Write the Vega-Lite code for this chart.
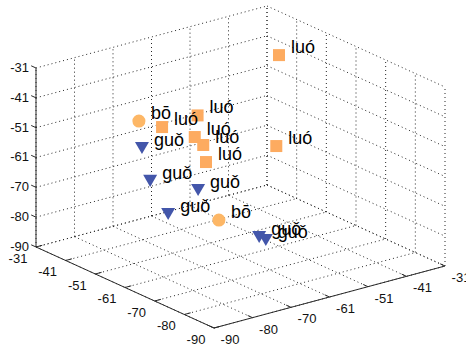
{
  "$schema": "https://vega.github.io/schema/vega-lite/v6.json",
  "width": 466,
  "height": 347,
  "padding": 0,
  "autosize": {"type": "none"},
  "background": "white",
  "config": {"view": {"stroke": null}},
  "datasets": {
    "ticks": [
      {"t": -90, "lab": "-90"},
      {"t": -80.1667, "lab": "-80"},
      {"t": -70.3333, "lab": "-70"},
      {"t": -60.5, "lab": "-61"},
      {"t": -50.6667, "lab": "-51"},
      {"t": -40.8333, "lab": "-41"},
      {"t": -31, "lab": "-31"}
    ],
    "axes": [
      {"a1": -31, "b1": -90, "z1": -90, "a2": -31, "b2": -90, "z2": -31},
      {"a1": -31, "b1": -90, "z1": -90, "a2": -90, "b2": -90, "z2": -90},
      {"a1": -90, "b1": -90, "z1": -90, "a2": -90, "b2": -31, "z2": -90}
    ],
    "points": [
      {"word": "luó", "a": -50.8, "b": -43.2, "z": -34},
      {"word": "luó", "a": -69.9, "b": -58.6, "z": -50},
      {"word": "bō", "a": -48.5, "b": -77.2, "z": -45},
      {"word": "luó", "a": -54.1, "b": -75.6, "z": -45},
      {"word": "luó", "a": -57.3, "b": -69.0, "z": -42},
      {"word": "luó", "a": -61.3, "b": -72.8, "z": -46},
      {"word": "luó", "a": -63.2, "b": -72.1, "z": -48},
      {"word": "luó", "a": -65.8, "b": -73.4, "z": -52},
      {"word": "guǒ", "a": -47.3, "b": -75.5, "z": -55},
      {"word": "guǒ", "a": -49.5, "b": -75.1, "z": -65},
      {"word": "guǒ", "a": -55.4, "b": -67.4, "z": -68},
      {"word": "guǒ", "a": -53.0, "b": -73.2, "z": -75},
      {"word": "bō", "a": -60.6, "b": -66.1, "z": -76},
      {"word": "guǒ", "a": -65.0, "b": -59.2, "z": -82},
      {"word": "guǒ", "a": -67.2, "b": -59.2, "z": -82}
    ]
  },
  "layer": [
    {
      "data": {"name": "ticks"},
      "transform": [
        {"calculate": "datum.t", "as": "a1"}, {"calculate": "-90", "as": "b1"}, {"calculate": "-90", "as": "z1"},
        {"calculate": "datum.t", "as": "a2"}, {"calculate": "-31", "as": "b2"}, {"calculate": "-90", "as": "z2"},
        {"calculate": "214 - (datum.a1 + 90) * 3.0169 + (datum.b1 + 90) * 3.9153", "as": "x1"},
        {"calculate": "19 + (datum.a1 + 90) * 1.3729 + (datum.b1 + 90) * 1.0508 + (datum.z1 + 90) * 3.0339", "as": "y1"},
        {"calculate": "214 - (datum.a2 + 90) * 3.0169 + (datum.b2 + 90) * 3.9153", "as": "x2"},
        {"calculate": "19 + (datum.a2 + 90) * 1.3729 + (datum.b2 + 90) * 1.0508 + (datum.z2 + 90) * 3.0339", "as": "y2"}
      ],
      "mark": {"type": "rule", "stroke": "#262626", "strokeWidth": 1, "strokeDash": [1, 3]},
      "encoding": {
        "x": {"field": "x1", "type": "quantitative", "scale": {"domain": [0, 466], "nice": false, "zero": false}, "axis": null},
        "y": {"field": "y1", "type": "quantitative", "scale": {"domain": [0, 347], "nice": false, "zero": false}, "axis": null},
        "x2": {"field": "x2"}, "y2": {"field": "y2"}
      }
    },
    {
      "data": {"name": "ticks"},
      "transform": [
        {"calculate": "-31", "as": "a1"}, {"calculate": "datum.t", "as": "b1"}, {"calculate": "-90", "as": "z1"},
        {"calculate": "-90", "as": "a2"}, {"calculate": "datum.t", "as": "b2"}, {"calculate": "-90", "as": "z2"},
        {"calculate": "214 - (datum.a1 + 90) * 3.0169 + (datum.b1 + 90) * 3.9153", "as": "x1"},
        {"calculate": "19 + (datum.a1 + 90) * 1.3729 + (datum.b1 + 90) * 1.0508 + (datum.z1 + 90) * 3.0339", "as": "y1"},
        {"calculate": "214 - (datum.a2 + 90) * 3.0169 + (datum.b2 + 90) * 3.9153", "as": "x2"},
        {"calculate": "19 + (datum.a2 + 90) * 1.3729 + (datum.b2 + 90) * 1.0508 + (datum.z2 + 90) * 3.0339", "as": "y2"}
      ],
      "mark": {"type": "rule", "stroke": "#262626", "strokeWidth": 1, "strokeDash": [1, 3]},
      "encoding": {
        "x": {"field": "x1", "type": "quantitative", "scale": {"domain": [0, 466], "nice": false, "zero": false}, "axis": null},
        "y": {"field": "y1", "type": "quantitative", "scale": {"domain": [0, 347], "nice": false, "zero": false}, "axis": null},
        "x2": {"field": "x2"}, "y2": {"field": "y2"}
      }
    },
    {
      "data": {"name": "ticks"},
      "transform": [
        {"calculate": "-31", "as": "a1"}, {"calculate": "datum.t", "as": "b1"}, {"calculate": "-90", "as": "z1"},
        {"calculate": "-31", "as": "a2"}, {"calculate": "datum.t", "as": "b2"}, {"calculate": "-31", "as": "z2"},
        {"calculate": "214 - (datum.a1 + 90) * 3.0169 + (datum.b1 + 90) * 3.9153", "as": "x1"},
        {"calculate": "19 + (datum.a1 + 90) * 1.3729 + (datum.b1 + 90) * 1.0508 + (datum.z1 + 90) * 3.0339", "as": "y1"},
        {"calculate": "214 - (datum.a2 + 90) * 3.0169 + (datum.b2 + 90) * 3.9153", "as": "x2"},
        {"calculate": "19 + (datum.a2 + 90) * 1.3729 + (datum.b2 + 90) * 1.0508 + (datum.z2 + 90) * 3.0339", "as": "y2"}
      ],
      "mark": {"type": "rule", "stroke": "#262626", "strokeWidth": 1, "strokeDash": [1, 3]},
      "encoding": {
        "x": {"field": "x1", "type": "quantitative", "scale": {"domain": [0, 466], "nice": false, "zero": false}, "axis": null},
        "y": {"field": "y1", "type": "quantitative", "scale": {"domain": [0, 347], "nice": false, "zero": false}, "axis": null},
        "x2": {"field": "x2"}, "y2": {"field": "y2"}
      }
    },
    {
      "data": {"name": "ticks"},
      "transform": [
        {"calculate": "-31", "as": "a1"}, {"calculate": "-90", "as": "b1"}, {"calculate": "datum.t", "as": "z1"},
        {"calculate": "-31", "as": "a2"}, {"calculate": "-31", "as": "b2"}, {"calculate": "datum.t", "as": "z2"},
        {"calculate": "214 - (datum.a1 + 90) * 3.0169 + (datum.b1 + 90) * 3.9153", "as": "x1"},
        {"calculate": "19 + (datum.a1 + 90) * 1.3729 + (datum.b1 + 90) * 1.0508 + (datum.z1 + 90) * 3.0339", "as": "y1"},
        {"calculate": "214 - (datum.a2 + 90) * 3.0169 + (datum.b2 + 90) * 3.9153", "as": "x2"},
        {"calculate": "19 + (datum.a2 + 90) * 1.3729 + (datum.b2 + 90) * 1.0508 + (datum.z2 + 90) * 3.0339", "as": "y2"}
      ],
      "mark": {"type": "rule", "stroke": "#262626", "strokeWidth": 1, "strokeDash": [1, 3]},
      "encoding": {
        "x": {"field": "x1", "type": "quantitative", "scale": {"domain": [0, 466], "nice": false, "zero": false}, "axis": null},
        "y": {"field": "y1", "type": "quantitative", "scale": {"domain": [0, 347], "nice": false, "zero": false}, "axis": null},
        "x2": {"field": "x2"}, "y2": {"field": "y2"}
      }
    },
    {
      "data": {"name": "ticks"},
      "transform": [
        {"calculate": "datum.t", "as": "a1"}, {"calculate": "-31", "as": "b1"}, {"calculate": "-90", "as": "z1"},
        {"calculate": "datum.t", "as": "a2"}, {"calculate": "-31", "as": "b2"}, {"calculate": "-31", "as": "z2"},
        {"calculate": "214 - (datum.a1 + 90) * 3.0169 + (datum.b1 + 90) * 3.9153", "as": "x1"},
        {"calculate": "19 + (datum.a1 + 90) * 1.3729 + (datum.b1 + 90) * 1.0508 + (datum.z1 + 90) * 3.0339", "as": "y1"},
        {"calculate": "214 - (datum.a2 + 90) * 3.0169 + (datum.b2 + 90) * 3.9153", "as": "x2"},
        {"calculate": "19 + (datum.a2 + 90) * 1.3729 + (datum.b2 + 90) * 1.0508 + (datum.z2 + 90) * 3.0339", "as": "y2"}
      ],
      "mark": {"type": "rule", "stroke": "#262626", "strokeWidth": 1, "strokeDash": [1, 3]},
      "encoding": {
        "x": {"field": "x1", "type": "quantitative", "scale": {"domain": [0, 466], "nice": false, "zero": false}, "axis": null},
        "y": {"field": "y1", "type": "quantitative", "scale": {"domain": [0, 347], "nice": false, "zero": false}, "axis": null},
        "x2": {"field": "x2"}, "y2": {"field": "y2"}
      }
    },
    {
      "data": {"name": "ticks"},
      "transform": [
        {"calculate": "-31", "as": "a1"}, {"calculate": "-31", "as": "b1"}, {"calculate": "datum.t", "as": "z1"},
        {"calculate": "-90", "as": "a2"}, {"calculate": "-31", "as": "b2"}, {"calculate": "datum.t", "as": "z2"},
        {"calculate": "214 - (datum.a1 + 90) * 3.0169 + (datum.b1 + 90) * 3.9153", "as": "x1"},
        {"calculate": "19 + (datum.a1 + 90) * 1.3729 + (datum.b1 + 90) * 1.0508 + (datum.z1 + 90) * 3.0339", "as": "y1"},
        {"calculate": "214 - (datum.a2 + 90) * 3.0169 + (datum.b2 + 90) * 3.9153", "as": "x2"},
        {"calculate": "19 + (datum.a2 + 90) * 1.3729 + (datum.b2 + 90) * 1.0508 + (datum.z2 + 90) * 3.0339", "as": "y2"}
      ],
      "mark": {"type": "rule", "stroke": "#262626", "strokeWidth": 1, "strokeDash": [1, 3]},
      "encoding": {
        "x": {"field": "x1", "type": "quantitative", "scale": {"domain": [0, 466], "nice": false, "zero": false}, "axis": null},
        "y": {"field": "y1", "type": "quantitative", "scale": {"domain": [0, 347], "nice": false, "zero": false}, "axis": null},
        "x2": {"field": "x2"}, "y2": {"field": "y2"}
      }
    },
    {
      "data": {"name": "axes"},
      "transform": [
        {"calculate": "214 - (datum.a1 + 90) * 3.0169 + (datum.b1 + 90) * 3.9153", "as": "x1"},
        {"calculate": "19 + (datum.a1 + 90) * 1.3729 + (datum.b1 + 90) * 1.0508 + (datum.z1 + 90) * 3.0339", "as": "y1"},
        {"calculate": "214 - (datum.a2 + 90) * 3.0169 + (datum.b2 + 90) * 3.9153", "as": "x2"},
        {"calculate": "19 + (datum.a2 + 90) * 1.3729 + (datum.b2 + 90) * 1.0508 + (datum.z2 + 90) * 3.0339", "as": "y2"}
      ],
      "mark": {"type": "rule", "stroke": "#2b2b2b", "strokeWidth": 1},
      "encoding": {
        "x": {"field": "x1", "type": "quantitative", "scale": {"domain": [0, 466], "nice": false, "zero": false}, "axis": null},
        "y": {"field": "y1", "type": "quantitative", "scale": {"domain": [0, 347], "nice": false, "zero": false}, "axis": null},
        "x2": {"field": "x2"}, "y2": {"field": "y2"}
      }
    },
    {
      "data": {"name": "ticks"},
      "transform": [
        {"calculate": "-31", "as": "a1"}, {"calculate": "-90", "as": "b1"}, {"calculate": "datum.t", "as": "z1"},
        {"calculate": "-29.4", "as": "a2"}, {"calculate": "-90", "as": "b2"}, {"calculate": "datum.t", "as": "z2"},
        {"calculate": "214 - (datum.a1 + 90) * 3.0169 + (datum.b1 + 90) * 3.9153", "as": "x1"},
        {"calculate": "19 + (datum.a1 + 90) * 1.3729 + (datum.b1 + 90) * 1.0508 + (datum.z1 + 90) * 3.0339", "as": "y1"},
        {"calculate": "214 - (datum.a2 + 90) * 3.0169 + (datum.b2 + 90) * 3.9153", "as": "x2"},
        {"calculate": "19 + (datum.a2 + 90) * 1.3729 + (datum.b2 + 90) * 1.0508 + (datum.z2 + 90) * 3.0339", "as": "y2"}
      ],
      "mark": {"type": "rule", "stroke": "#2b2b2b", "strokeWidth": 1},
      "encoding": {
        "x": {"field": "x1", "type": "quantitative", "scale": {"domain": [0, 466], "nice": false, "zero": false}, "axis": null},
        "y": {"field": "y1", "type": "quantitative", "scale": {"domain": [0, 347], "nice": false, "zero": false}, "axis": null},
        "x2": {"field": "x2"}, "y2": {"field": "y2"}
      }
    },
    {
      "data": {"name": "ticks"},
      "transform": [
        {"calculate": "datum.t", "as": "a1"}, {"calculate": "-90", "as": "b1"}, {"calculate": "-90", "as": "z1"},
        {"calculate": "datum.t", "as": "a2"}, {"calculate": "-88.4", "as": "b2"}, {"calculate": "-90", "as": "z2"},
        {"calculate": "214 - (datum.a1 + 90) * 3.0169 + (datum.b1 + 90) * 3.9153", "as": "x1"},
        {"calculate": "19 + (datum.a1 + 90) * 1.3729 + (datum.b1 + 90) * 1.0508 + (datum.z1 + 90) * 3.0339", "as": "y1"},
        {"calculate": "214 - (datum.a2 + 90) * 3.0169 + (datum.b2 + 90) * 3.9153", "as": "x2"},
        {"calculate": "19 + (datum.a2 + 90) * 1.3729 + (datum.b2 + 90) * 1.0508 + (datum.z2 + 90) * 3.0339", "as": "y2"}
      ],
      "mark": {"type": "rule", "stroke": "#2b2b2b", "strokeWidth": 1},
      "encoding": {
        "x": {"field": "x1", "type": "quantitative", "scale": {"domain": [0, 466], "nice": false, "zero": false}, "axis": null},
        "y": {"field": "y1", "type": "quantitative", "scale": {"domain": [0, 347], "nice": false, "zero": false}, "axis": null},
        "x2": {"field": "x2"}, "y2": {"field": "y2"}
      }
    },
    {
      "data": {"name": "ticks"},
      "transform": [
        {"calculate": "-90", "as": "a1"}, {"calculate": "datum.t", "as": "b1"}, {"calculate": "-90", "as": "z1"},
        {"calculate": "-88.4", "as": "a2"}, {"calculate": "datum.t", "as": "b2"}, {"calculate": "-90", "as": "z2"},
        {"calculate": "214 - (datum.a1 + 90) * 3.0169 + (datum.b1 + 90) * 3.9153", "as": "x1"},
        {"calculate": "19 + (datum.a1 + 90) * 1.3729 + (datum.b1 + 90) * 1.0508 + (datum.z1 + 90) * 3.0339", "as": "y1"},
        {"calculate": "214 - (datum.a2 + 90) * 3.0169 + (datum.b2 + 90) * 3.9153", "as": "x2"},
        {"calculate": "19 + (datum.a2 + 90) * 1.3729 + (datum.b2 + 90) * 1.0508 + (datum.z2 + 90) * 3.0339", "as": "y2"}
      ],
      "mark": {"type": "rule", "stroke": "#2b2b2b", "strokeWidth": 1},
      "encoding": {
        "x": {"field": "x1", "type": "quantitative", "scale": {"domain": [0, 466], "nice": false, "zero": false}, "axis": null},
        "y": {"field": "y1", "type": "quantitative", "scale": {"domain": [0, 347], "nice": false, "zero": false}, "axis": null},
        "x2": {"field": "x2"}, "y2": {"field": "y2"}
      }
    },
    {
      "data": {"name": "ticks"},
      "transform": [
        {"calculate": "214 - (-31 + 90) * 3.0169", "as": "px"},
        {"calculate": "19 + (-31 + 90) * 1.3729 + (datum.t + 90) * 3.0339", "as": "py"}
      ],
      "mark": {"type": "text", "align": "right", "baseline": "middle", "dx": -7, "font": "Liberation Sans", "fontSize": 13, "fill": "#111"},
      "encoding": {
        "x": {"field": "px", "type": "quantitative", "scale": {"domain": [0, 466], "nice": false, "zero": false}, "axis": null},
        "y": {"field": "py", "type": "quantitative", "scale": {"domain": [0, 347], "nice": false, "zero": false}, "axis": null},
        "text": {"field": "lab"}
      }
    },
    {
      "data": {"name": "ticks"},
      "transform": [
        {"calculate": "214 - (datum.t + 90) * 3.0169", "as": "px"},
        {"calculate": "19 + (datum.t + 90) * 1.3729", "as": "py"}
      ],
      "mark": {"type": "text", "align": "center", "baseline": "middle", "dx": -18, "dy": 12, "font": "Liberation Sans", "fontSize": 13, "fill": "#111"},
      "encoding": {
        "x": {"field": "px", "type": "quantitative", "scale": {"domain": [0, 466], "nice": false, "zero": false}, "axis": null},
        "y": {"field": "py", "type": "quantitative", "scale": {"domain": [0, 347], "nice": false, "zero": false}, "axis": null},
        "text": {"field": "lab"}
      }
    },
    {
      "data": {"name": "ticks"},
      "transform": [
        {"calculate": "214 + (datum.t + 90) * 3.9153", "as": "px"},
        {"calculate": "19 + (datum.t + 90) * 1.0508", "as": "py"}
      ],
      "mark": {"type": "text", "align": "center", "baseline": "middle", "dx": 16, "dy": 12, "font": "Liberation Sans", "fontSize": 13, "fill": "#111"},
      "encoding": {
        "x": {"field": "px", "type": "quantitative", "scale": {"domain": [0, 466], "nice": false, "zero": false}, "axis": null},
        "y": {"field": "py", "type": "quantitative", "scale": {"domain": [0, 347], "nice": false, "zero": false}, "axis": null},
        "text": {"field": "lab"}
      }
    },
    {
      "data": {"name": "points"},
      "transform": [
        {"calculate": "214 - (datum.a + 90) * 3.0169 + (datum.b + 90) * 3.9153", "as": "px"},
        {"calculate": "19 + (datum.a + 90) * 1.3729 + (datum.b + 90) * 1.0508 + (datum.z + 90) * 3.0339", "as": "py"}
      ],
      "mark": {"type": "point", "filled": true, "opacity": 1},
      "encoding": {
        "x": {"field": "px", "type": "quantitative", "scale": {"domain": [0, 466], "nice": false, "zero": false}, "axis": null},
        "y": {"field": "py", "type": "quantitative", "scale": {"domain": [0, 347], "nice": false, "zero": false}, "axis": null},
        "shape": {"field": "word", "type": "nominal", "scale": {"domain": ["luó", "bō", "guǒ"], "range": ["square", "circle", "triangle-down"]}, "legend": null},
        "color": {"field": "word", "type": "nominal", "scale": {"domain": ["luó", "bō", "guǒ"], "range": ["#FDAB60", "#FDB766", "#4356AA"]}, "legend": null},
        "size": {"field": "word", "type": "ordinal", "scale": {"domain": ["luó", "bō", "guǒ"], "range": [144, 196, 240]}, "legend": null}
      }
    },
    {
      "data": {"name": "points"},
      "transform": [
        {"calculate": "214 - (datum.a + 90) * 3.0169 + (datum.b + 90) * 3.9153", "as": "px"},
        {"calculate": "19 + (datum.a + 90) * 1.3729 + (datum.b + 90) * 1.0508 + (datum.z + 90) * 3.0339", "as": "py"}
      ],
      "mark": {"type": "text", "align": "left", "baseline": "alphabetic", "dx": 12, "dy": -2, "font": "Liberation Sans", "fontSize": 18, "fill": "#000"},
      "encoding": {
        "x": {"field": "px", "type": "quantitative", "scale": {"domain": [0, 466], "nice": false, "zero": false}, "axis": null},
        "y": {"field": "py", "type": "quantitative", "scale": {"domain": [0, 347], "nice": false, "zero": false}, "axis": null},
        "text": {"field": "word"}
      }
    }
  ]
}
